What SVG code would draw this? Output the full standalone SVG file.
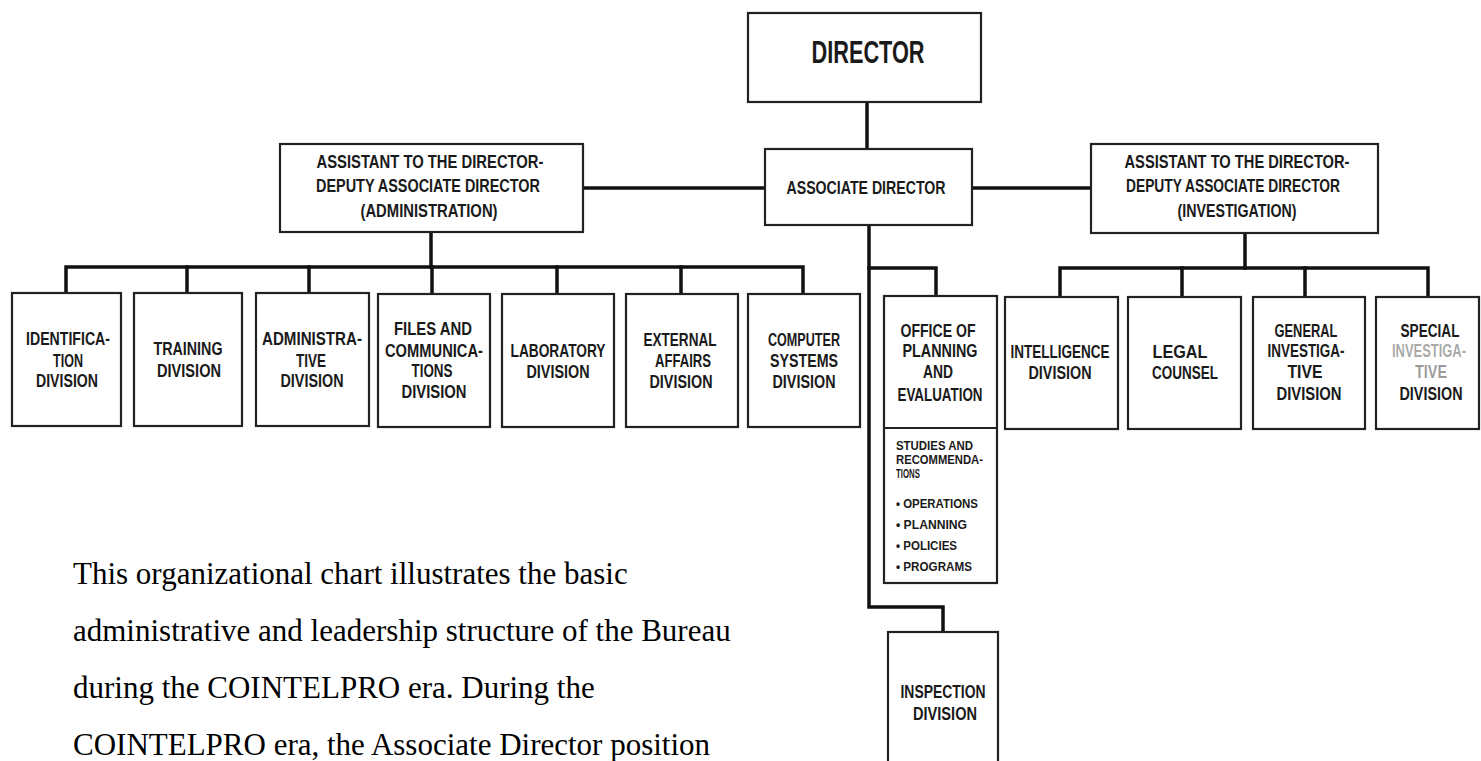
<svg xmlns="http://www.w3.org/2000/svg" width="1481" height="761" viewBox="0 0 1481 761">
<style>
.box{fill:#fff;stroke:#222;stroke-width:2.2}
.ln{fill:none;stroke:#111;stroke-width:3.5;stroke-linejoin:miter;stroke-linecap:square}
.t{font-family:"Liberation Sans Narrow","Liberation Sans","DejaVu Sans Condensed",sans-serif;font-weight:bold;fill:#1a1a1a}
.d{font-size:19px}
.s{font-size:13px}
.p{font-family:"Liberation Serif","Times New Roman",serif;font-size:31px;fill:#000}
</style>
<rect width="1481" height="761" fill="#fff"/>
<g id="connectors">
<path class="ln" d="M867 102V149"/>
<path class="ln" d="M583 188H765"/>
<path class="ln" d="M972 188H1091"/>
<path class="ln" d="M431 232V267"/>
<path class="ln" d="M66 293V267H803V293"/>
<path class="ln" d="M187 267V293M309 267V293M432 267V293M557 267V293M681 267V293"/>
<path class="ln" d="M869 225V607H943V632"/>
<path class="ln" d="M869 268H936V296"/>
<path class="ln" d="M1245 233V268"/>
<path class="ln" d="M1060 297V268H1428V297"/>
<path class="ln" d="M1182 268V297M1305 268V297"/>
</g>
<g id="director">
<rect class="box" x="748" y="13" width="233" height="89"/>
<text class="t" x="868" y="63" font-size="32" text-anchor="middle" textLength="113" lengthAdjust="spacingAndGlyphs">DIRECTOR</text>
</g>
<g id="associate-director">
<rect class="box" x="765" y="149" width="207" height="76"/>
<text class="t" x="866" y="194" font-size="18" text-anchor="middle" textLength="159" lengthAdjust="spacingAndGlyphs">ASSOCIATE DIRECTOR</text>
</g>
<g id="asst-admin">
<rect class="box" x="280" y="144" width="303" height="88"/>
<text class="t d" x="430" y="168" text-anchor="middle" textLength="227" lengthAdjust="spacingAndGlyphs">ASSISTANT TO THE DIRECTOR-</text>
<text class="t d" x="428" y="192" text-anchor="middle" textLength="224" lengthAdjust="spacingAndGlyphs">DEPUTY ASSOCIATE DIRECTOR</text>
<text class="t d" x="429" y="217" text-anchor="middle" textLength="137" lengthAdjust="spacingAndGlyphs">(ADMINISTRATION)</text>
</g>
<g id="asst-invest">
<rect class="box" x="1091" y="144" width="287" height="89"/>
<text class="t d" x="1237" y="168" text-anchor="middle" textLength="225" lengthAdjust="spacingAndGlyphs">ASSISTANT TO THE DIRECTOR-</text>
<text class="t d" x="1233" y="192" text-anchor="middle" textLength="214" lengthAdjust="spacingAndGlyphs">DEPUTY ASSOCIATE DIRECTOR</text>
<text class="t d" x="1237" y="217" text-anchor="middle" textLength="119" lengthAdjust="spacingAndGlyphs">(INVESTIGATION)</text>
</g>
<g id="identification">
<rect class="box" x="12" y="293" width="109" height="133"/>
<text class="t d" x="68" y="345" text-anchor="middle" textLength="84" lengthAdjust="spacingAndGlyphs">IDENTIFICA-</text>
<text class="t d" x="68" y="367" text-anchor="middle" textLength="30" lengthAdjust="spacingAndGlyphs">TION</text>
<text class="t d" x="67" y="387" text-anchor="middle" textLength="62" lengthAdjust="spacingAndGlyphs">DIVISION</text>
</g>
<g id="training">
<rect class="box" x="134" y="293" width="108" height="133"/>
<text class="t d" x="188" y="355" text-anchor="middle" textLength="69" lengthAdjust="spacingAndGlyphs">TRAINING</text>
<text class="t d" x="189" y="377" text-anchor="middle" textLength="64" lengthAdjust="spacingAndGlyphs">DIVISION</text>
</g>
<g id="administrative">
<rect class="box" x="256" y="293" width="113" height="133"/>
<text class="t d" x="312" y="345" text-anchor="middle" textLength="100" lengthAdjust="spacingAndGlyphs">ADMINISTRA-</text>
<text class="t d" x="311" y="367" text-anchor="middle" textLength="30" lengthAdjust="spacingAndGlyphs">TIVE</text>
<text class="t d" x="312" y="387" text-anchor="middle" textLength="63" lengthAdjust="spacingAndGlyphs">DIVISION</text>
</g>
<g id="files">
<rect class="box" x="378" y="294" width="112" height="133"/>
<text class="t d" x="433" y="335" text-anchor="middle" textLength="78" lengthAdjust="spacingAndGlyphs">FILES AND</text>
<text class="t d" x="434" y="357" text-anchor="middle" textLength="98" lengthAdjust="spacingAndGlyphs">COMMUNICA-</text>
<text class="t d" x="432" y="377" text-anchor="middle" textLength="41" lengthAdjust="spacingAndGlyphs">TIONS</text>
<text class="t d" x="434" y="398" text-anchor="middle" textLength="65" lengthAdjust="spacingAndGlyphs">DIVISION</text>
</g>
<g id="laboratory">
<rect class="box" x="502" y="294" width="112" height="133"/>
<text class="t d" x="558" y="357" text-anchor="middle" textLength="95" lengthAdjust="spacingAndGlyphs">LABORATORY</text>
<text class="t d" x="558" y="378" text-anchor="middle" textLength="63" lengthAdjust="spacingAndGlyphs">DIVISION</text>
</g>
<g id="external">
<rect class="box" x="626" y="294" width="112" height="133"/>
<text class="t d" x="680" y="346" text-anchor="middle" textLength="73" lengthAdjust="spacingAndGlyphs">EXTERNAL</text>
<text class="t d" x="683" y="367" text-anchor="middle" textLength="56" lengthAdjust="spacingAndGlyphs">AFFAIRS</text>
<text class="t d" x="681" y="388" text-anchor="middle" textLength="63" lengthAdjust="spacingAndGlyphs">DIVISION</text>
</g>
<g id="computer">
<rect class="box" x="748" y="294" width="112" height="133"/>
<text class="t d" x="804" y="346" text-anchor="middle" textLength="72" lengthAdjust="spacingAndGlyphs">COMPUTER</text>
<text class="t d" x="804" y="367" text-anchor="middle" textLength="68" lengthAdjust="spacingAndGlyphs">SYSTEMS</text>
<text class="t d" x="804" y="388" text-anchor="middle" textLength="63" lengthAdjust="spacingAndGlyphs">DIVISION</text>
</g>
<g id="planning">
<rect class="box" x="884" y="296" width="113" height="287"/>
<path d="M884 428H997" stroke="#222" stroke-width="2.2"/>
<text class="t d" x="938" y="337" text-anchor="middle" textLength="75" lengthAdjust="spacingAndGlyphs">OFFICE OF</text>
<text class="t d" x="940" y="357" text-anchor="middle" textLength="75" lengthAdjust="spacingAndGlyphs">PLANNING</text>
<text class="t d" x="938" y="378" text-anchor="middle" textLength="30" lengthAdjust="spacingAndGlyphs">AND</text>
<text class="t d" x="940" y="401" text-anchor="middle" textLength="85" lengthAdjust="spacingAndGlyphs">EVALUATION</text>
<text class="t s" x="896" y="450" textLength="77" lengthAdjust="spacingAndGlyphs">STUDIES AND</text>
<text class="t s" x="896" y="464" textLength="87" lengthAdjust="spacingAndGlyphs">RECOMMENDA-</text>
<text class="t s" x="896" y="478" textLength="24" lengthAdjust="spacingAndGlyphs">TIONS</text>
<text class="t s" x="896" y="508" textLength="82" lengthAdjust="spacingAndGlyphs">• OPERATIONS</text>
<text class="t s" x="896" y="529" textLength="71" lengthAdjust="spacingAndGlyphs">• PLANNING</text>
<text class="t s" x="896" y="550" textLength="61" lengthAdjust="spacingAndGlyphs">• POLICIES</text>
<text class="t s" x="896" y="571" textLength="76" lengthAdjust="spacingAndGlyphs">• PROGRAMS</text>
</g>
<g id="inspection">
<rect class="box" x="888" y="632" width="110" height="140"/>
<text class="t d" x="943" y="698" text-anchor="middle" textLength="85" lengthAdjust="spacingAndGlyphs">INSPECTION</text>
<text class="t d" x="945" y="720" text-anchor="middle" textLength="64" lengthAdjust="spacingAndGlyphs">DIVISION</text>
</g>
<g id="intelligence">
<rect class="box" x="1005" y="297" width="113" height="132"/>
<text class="t d" x="1060" y="358" text-anchor="middle" textLength="99" lengthAdjust="spacingAndGlyphs">INTELLIGENCE</text>
<text class="t d" x="1060" y="379" text-anchor="middle" textLength="63" lengthAdjust="spacingAndGlyphs">DIVISION</text>
</g>
<g id="legal">
<rect class="box" x="1128" y="297" width="113" height="132"/>
<text class="t d" x="1180" y="358" text-anchor="middle" textLength="55" lengthAdjust="spacingAndGlyphs">LEGAL</text>
<text class="t d" x="1185" y="379" text-anchor="middle" textLength="66" lengthAdjust="spacingAndGlyphs">COUNSEL</text>
</g>
<g id="general">
<rect class="box" x="1253" y="297" width="112" height="132"/>
<text class="t d" x="1306" y="337" text-anchor="middle" textLength="63" lengthAdjust="spacingAndGlyphs">GENERAL</text>
<text class="t d" x="1306" y="357" text-anchor="middle" textLength="77" lengthAdjust="spacingAndGlyphs">INVESTIGA-</text>
<text class="t d" x="1305" y="378" text-anchor="middle" textLength="35" lengthAdjust="spacingAndGlyphs">TIVE</text>
<text class="t d" x="1309" y="400" text-anchor="middle" textLength="65" lengthAdjust="spacingAndGlyphs">DIVISION</text>
</g>
<g id="special">
<rect class="box" x="1376" y="297" width="103" height="132"/>
<text class="t d" x="1430" y="337" text-anchor="middle" textLength="59" lengthAdjust="spacingAndGlyphs">SPECIAL</text>
<text class="t d" x="1429" y="357" text-anchor="middle" textLength="74" lengthAdjust="spacingAndGlyphs" fill-opacity="0.4">INVESTIGA-</text>
<text class="t d" x="1431" y="378" text-anchor="middle" textLength="32" lengthAdjust="spacingAndGlyphs" fill-opacity="0.45">TIVE</text>
<text class="t d" x="1431" y="400" text-anchor="middle" textLength="63" lengthAdjust="spacingAndGlyphs">DIVISION</text>
</g>
<g id="caption">
<text class="p" x="73" y="584">This organizational chart illustrates the basic</text>
<text class="p" x="73" y="641">administrative and leadership structure of the Bureau</text>
<text class="p" x="73" y="698">during the COINTELPRO era. During the</text>
<text class="p" x="73" y="755">COINTELPRO era, the Associate Director position</text>
</g>
</svg>
